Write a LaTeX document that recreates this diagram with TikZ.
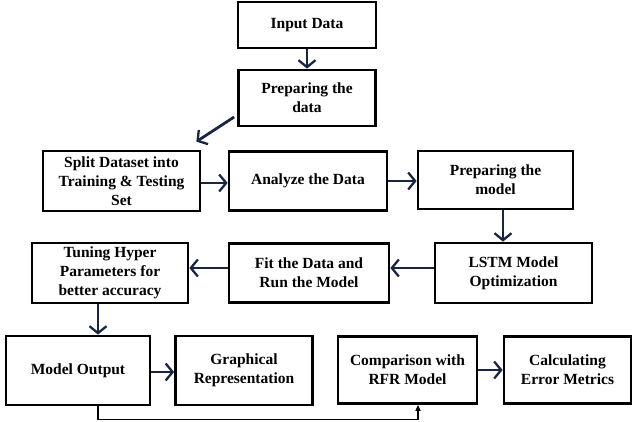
\documentclass[tikz,border=0pt]{standalone}
\usepackage{fontspec}
\setmainfont{Liberation Serif}
\usetikzlibrary{arrows.meta, positioning, calc}

\definecolor{arrowblue}{RGB}{24,38,68}

\begin{document}
\begin{tikzpicture}[x=1pt, y=-1pt,
  stepbox/.style={draw, line width=2.7pt, align=center, inner sep=0pt,
    font=\fontsize{15.5}{19}\selectfont\bfseries},
  flow/.style={draw=arrowblue, line width=2.8pt,
    -{Straight Barb[length=7pt, width=17pt, line width=2.3pt]}},
  back/.style={draw, line width=1.4pt, -{Triangle[length=6pt, width=5pt]}}]

\useasboundingbox (0, 0) rectangle (634, 421);

% top column
\node [stepbox, minimum width=138pt, minimum height=46pt] (input) at (307, 25) {Input Data};
\node [stepbox, minimum width=137pt, minimum height=56pt] (prepdata) at (307, 98) {Preparing the\\data};

% second row
\node [stepbox, minimum width=157pt, minimum height=60pt] (split) at (121.5, 181) {Split Dataset into\\Training \& Testing\\Set};
\node [stepbox, minimum width=158pt, minimum height=59pt] (analyze) at (308, 181) {Analyze the Data};
\node [stepbox, minimum width=155pt, minimum height=58pt] (prepmodel) at (495.5, 180) {Preparing the\\model};

% third row
\node [stepbox, minimum width=157pt, minimum height=60pt] (lstm) at (513.5, 273) {LSTM Model\\Optimization};
\node [stepbox, minimum width=160pt, minimum height=59pt] (fit) at (309, 273) {Fit the Data and\\Run the Model};
\node [stepbox, minimum width=156pt, minimum height=60pt] (tuning) at (110, 273) {Tuning Hyper\\Parameters for\\better accuracy};

% bottom row
\node [stepbox, minimum width=144pt, minimum height=69pt] (output) at (78, 370.5) {Model Output};
\node [stepbox, minimum width=137pt, minimum height=69pt] (graph) at (244, 370.5) {Graphical\\Representation};
\node [stepbox, minimum width=139pt, minimum height=67pt] (compare) at (407.5, 370) {Comparison with\\RFR Model};
\node [stepbox, minimum width=127pt, minimum height=67pt] (metrics) at (567.5, 370) {Calculating\\Error Metrics};

\coordinate (drop) at ([xshift=-12pt]tuning.south);

\draw [flow] (input) -- (prepdata);
\draw [flow] ([xshift=-3pt, yshift=-19pt]prepdata.west) -- ([xshift=-5pt, yshift=8pt]split.north east);
\draw [flow] ([yshift=-2pt]split.east) -- ([yshift=-2pt]analyze.west);
\draw [flow] (analyze) -- (analyze -| prepmodel.west);
\draw [flow] ([xshift=7.5pt]prepmodel.south) -- ([xshift=7.5pt]prepmodel.south |- lstm.north);
\draw [flow] ([yshift=5pt]lstm.west) -- ([yshift=5pt]lstm.west -| fit.east);
\draw [flow] ([yshift=5pt]fit.west) -- ([yshift=5pt]fit.west -| tuning.east);
\draw [flow] (drop) -- (drop |- output.north);
\draw [flow] ([yshift=-1.5pt]output.east) -- ([yshift=-1.5pt]graph.west);
\draw [flow] (compare) -- (compare -| metrics.west);

\draw [back] (drop |- output.south) -- ++(0, 13) -| ([xshift=10.5pt]compare.south);

\end{tikzpicture}
\end{document}
